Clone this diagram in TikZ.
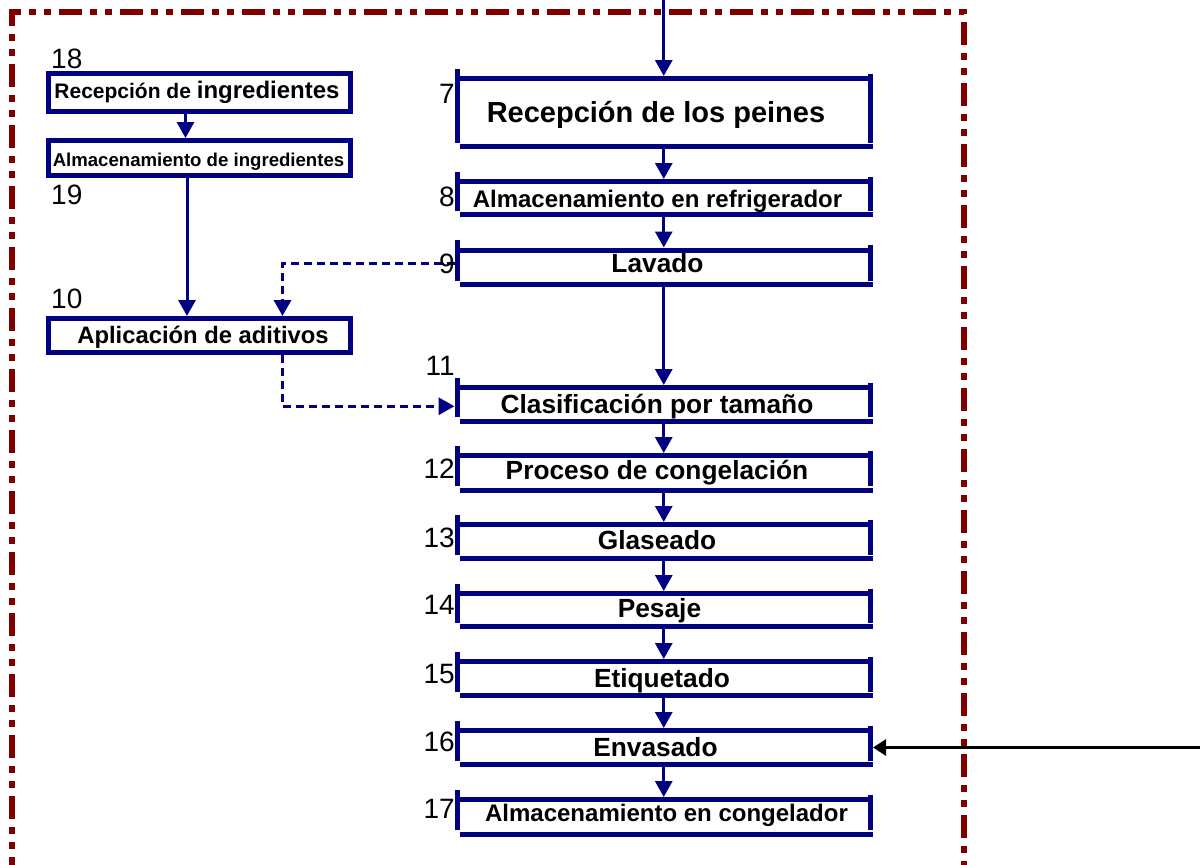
\documentclass[tikz,border=0pt]{standalone}
\usepackage{fontspec}
\setmainfont{Liberation Sans}
\usetikzlibrary{arrows.meta,calc}
\definecolor{navyb}{RGB}{0,0,128}
\definecolor{framered}{RGB}{128,0,0}
\newcommand{\fsz}[1]{\fontsize{#1}{#1}\selectfont}
\begin{document}
\begin{tikzpicture}[x=1pt,y=-1pt,
  mbox/.style={draw=none,inner sep=0pt,outer sep=0pt,minimum width=413.5pt,minimum height=34pt},
  lbox/.style={draw=navyb,line width=5pt,inner sep=0pt,outer sep=0pt,minimum width=302.5pt},
  edge/.style={draw=navyb,line width=5pt},
  lbl/.style={anchor=base,inner sep=0pt,font=\bfseries\fsz{26.3}},
  num/.style={inner sep=0pt,font=\fsz{28}},
  flow/.style={draw=navyb,line width=3pt,-{Triangle[width=17pt,length=16pt]},shorten >=2.5pt,shorten <=2.5pt},
  dflow/.style={flow,line width=3.3pt,dash pattern=on 7.5pt off 5.5pt},
  extflow/.style={draw=black,line width=2.8pt,-{Triangle[width=16pt,length=13pt]},shorten >=2.5pt},
  frame/.style={draw=framered,line width=6pt,dash pattern=on 23pt off 8pt on 7pt off 8pt on 7pt off 8pt}
]
\useasboundingbox (0,0) rectangle (1200,865);
% frame
\draw[frame] (12,880) -- (12,12) -- (964,12) -- (964,880);

% main boxes (geometry)
\node[mbox,minimum height=68pt] (b7) at (663.75,112.5) {};
\node[mbox,minimum height=33pt] (b8) at (663.75,198) {};
\node[mbox,minimum height=34.5pt] (b9) at (663.75,267.25) {};
\node[mbox,minimum height=33.5pt] (b11) at (663.75,404.25) {};
\node[mbox,minimum height=34.5pt] (b12) at (663.75,472.75) {};
\node[mbox] (b13) at (663.75,541.5) {};
\node[mbox,minimum height=33pt] (b14) at (663.75,610) {};
\node[mbox] (b15) at (663.75,678.5) {};
\node[mbox] (b16) at (663.75,747.5) {};
\node[mbox,minimum height=34.5pt] (b17) at (663.75,816.75) {};
\foreach \n in {b7,b8,b9,b11,b12,b13,b14,b15,b16,b17}{
  \draw[edge] ([xshift=2.5pt]\n.north west) -- ([xshift=2.5pt]\n.north east);
  \draw[edge] ([xshift=2.5pt]\n.south west) -- ([xshift=2.5pt]\n.south east);
  \draw[edge] ([yshift=10pt]\n.north west) -- ([yshift=4pt]\n.south west);
  \draw[edge] ([yshift=5pt]\n.north east) -- ([yshift=4pt]\n.south east);
}

% left boxes
\node[lbox,minimum height=38pt] (b18) at (199.25,92.5) {};
\node[lbox,minimum height=35pt] (b19) at (199.25,158) {};
\node[lbox,minimum height=34pt] (b10) at (199.25,335.5) {};

% connectors
\coordinate (src) at (663.75,-2);
\draw[flow,shorten <=0pt] (src) -- (b7.north);
\draw[flow] (b7.south) -- (b8.north);
\draw[flow] (b8.south) -- (b9.north);
\draw[flow] (b9.south) -- (b11.north);
\draw[flow] (b11.south) -- (b12.north);
\draw[flow] (b12.south) -- (b13.north);
\draw[flow] (b13.south) -- (b14.north);
\draw[flow] (b14.south) -- (b15.north);
\draw[flow] (b15.south) -- (b16.north);
\draw[flow] (b16.south) -- (b17.north);
\draw[flow] ([xshift=-13.75pt]b18.south) -- ([xshift=-13.75pt]b19.north);
\draw[flow] ([xshift=-12.25pt]b19.south) -- ([xshift=-12.25pt]b10.north);
\draw[dflow] ([yshift=4pt]b9.west) -| ([xshift=83.25pt]b10.north);
\draw[dflow] ([xshift=83.25pt]b10.south) |- ([yshift=-2pt]b11.west);
\coordinate (ext) at (1202,747.5);
\draw[extflow] (ext) -- (b16.east);

% labels
\node[lbl] (t7) at (656,122) {\fsz{29}Recepción de los peines};
\node[lbl] (t8) at (657.5,207) {\fsz{24}Almacenamiento en refrigerador};
\node[lbl] (t9) at (657.5,272) {Lavado};
\node[lbl] (t11) at (657,413) {Clasificación por tamaño};
\node[lbl] (t12) at (657,479) {Proceso de congelación};
\node[lbl] (t13) at (657,549) {Glaseado};
\node[lbl] (t14) at (659.5,617) {Pesaje};
\node[lbl] (t15) at (662,687) {Etiquetado};
\node[lbl] (t16) at (655.5,756) {Envasado};
\node[lbl] (t17) at (666.5,821) {\fsz{24}Almacenamiento en congelador};
\node[lbl] (t18) at (197,98) {\fsz{21}Recepción de \fsz{24}ingredientes};
\node[lbl] (t19) at (198.5,166) {\fsz{18.6}Almacenamiento de ingredientes};
\node[lbl] (t10) at (203,343) {\fsz{23.8}Aplicación de aditivos};

% numbers
\node[num,anchor=base west] (n18) at (51,68) {18};
\node[num,anchor=base west] (n19) at (51,204) {19};
\node[num,anchor=base west] (n10) at (51,308) {10};
\node[num,anchor=base east] (n7) at (455,103) {7};
\node[num,anchor=base east] (n8) at (455,206) {8};
\node[num,anchor=base east] (n9) at (455,273) {9};
\node[num,anchor=base east] (n11) at (455,375) {11};
\node[num,anchor=base east] (n12) at (455,478) {12};
\node[num,anchor=base east] (n13) at (455,547) {13};
\node[num,anchor=base east] (n14) at (455,614) {14};
\node[num,anchor=base east] (n15) at (455,683) {15};
\node[num,anchor=base east] (n16) at (455,751) {16};
\node[num,anchor=base east] (n17) at (455,818) {17};
\end{tikzpicture}
\end{document}
